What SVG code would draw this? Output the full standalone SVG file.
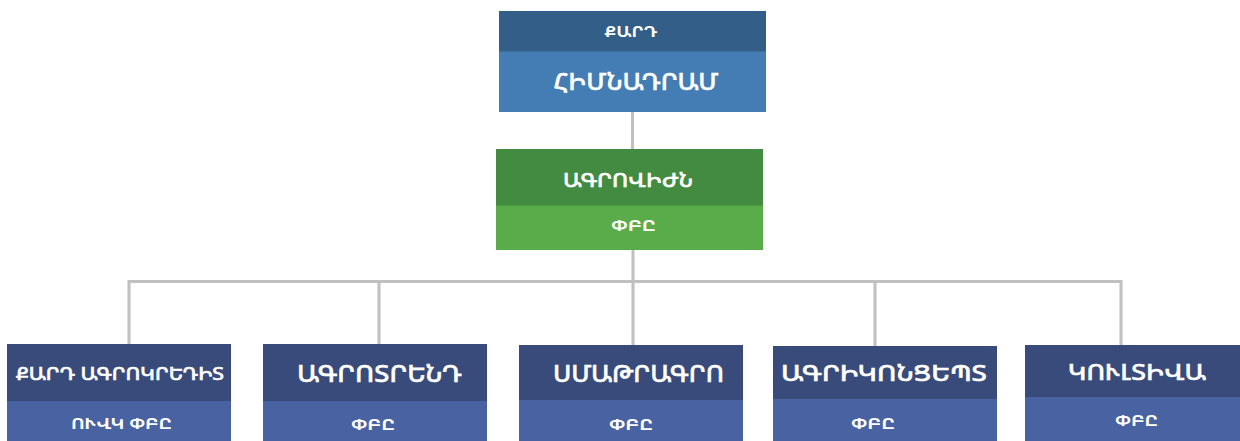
<svg xmlns="http://www.w3.org/2000/svg" width="1240" height="441" viewBox="0 0 1240 441">
<style>
text{font-family:"Noto Sans Armenian","Noto Sans","DejaVu Sans",sans-serif;fill:#ffffff;text-anchor:middle}
.t{font-weight:500;stroke:#ffffff;stroke-width:0.6}
.s{font-weight:bold;font-size:16px}
.c{fill:none;stroke:#c0c0c0;stroke-width:3}
.bh{fill:#384b7a}
.bl{fill:#4862a2}
</style>
<rect width="1240" height="441" fill="#ffffff"/>
<g id="connectors">
<path class="c" d="M632.5 112V149M633 250V281.5M129 281.5H1121M129 280V344M379 280V344M633 280V345M875 280V346M1121 280V345"/>
</g>
<g id="node-root">
<rect x="499" y="11" width="267" height="41" fill="#335e87"/>
<rect x="499" y="51.5" width="267" height="60.5" fill="#447db4"/>
<text class="s" x="631" y="37" textLength="53" lengthAdjust="spacingAndGlyphs">ՔԱՐԴ</text>
<text class="t" x="636" y="90" font-size="24" textLength="165" lengthAdjust="spacingAndGlyphs">ՀԻՄՆԱԴՐԱՄ</text>
</g>
<g id="node-agrovizhn">
<rect x="496" y="149" width="267" height="57" fill="#438b40"/>
<rect x="496" y="205.5" width="267" height="44.5" fill="#5aac4a"/>
<text class="t" x="628" y="187" font-size="20" textLength="130" lengthAdjust="spacingAndGlyphs">ԱԳՐՈՎԻԺՆ</text>
<text class="s" x="633.5" y="230.5" textLength="45" lengthAdjust="spacingAndGlyphs">ՓԲԸ</text>
</g>
<g id="node-kard-agrokredit">
<rect class="bh" x="7" y="344" width="224" height="57"/>
<rect class="bl" x="7" y="401" width="224" height="40"/>
<text class="t" x="120" y="380" font-size="18" textLength="208" lengthAdjust="spacingAndGlyphs">ՔԱՐԴ ԱԳՐՈԿՐԵԴԻՏ</text>
<text class="s" x="121.5" y="429" textLength="101" lengthAdjust="spacingAndGlyphs">ՈՒՎԿ ՓԲԸ</text>
</g>
<g id="node-agrotrend">
<rect class="bh" x="263" y="344" width="224" height="57"/>
<rect class="bl" x="263" y="401" width="224" height="40"/>
<text class="t" x="379.5" y="382" font-size="24" textLength="165" lengthAdjust="spacingAndGlyphs">ԱԳՐՈՏՐԵՆԴ</text>
<text class="s" x="373" y="430" textLength="44" lengthAdjust="spacingAndGlyphs">ՓԲԸ</text>
</g>
<g id="node-smatragro">
<rect class="bh" x="519" y="345" width="224" height="55"/>
<rect class="bl" x="519" y="400" width="224" height="41"/>
<text class="t" x="638.5" y="382" font-size="24" textLength="171" lengthAdjust="spacingAndGlyphs">ՍՄԱԹՐԱԳՐՈ</text>
<text class="s" x="631" y="430" textLength="44" lengthAdjust="spacingAndGlyphs">ՓԲԸ</text>
</g>
<g id="node-agrikoncept">
<rect class="bh" x="773" y="346" width="224" height="53"/>
<rect class="bl" x="773" y="399" width="224" height="42"/>
<text class="t" x="884" y="381" font-size="22" textLength="206" lengthAdjust="spacingAndGlyphs">ԱԳՐԻԿՈՆՑԵՊՏ</text>
<text class="s" x="873" y="429" textLength="44" lengthAdjust="spacingAndGlyphs">ՓԲԸ</text>
</g>
<g id="node-kultiva">
<rect class="bh" x="1025" y="345" width="224" height="52"/>
<rect class="bl" x="1025" y="397" width="224" height="44"/>
<text class="t" x="1137" y="380" font-size="22" textLength="138" lengthAdjust="spacingAndGlyphs">ԿՈՒԼՏԻՎԱ</text>
<text class="s" x="1136.5" y="426" textLength="43" lengthAdjust="spacingAndGlyphs">ՓԲԸ</text>
</g>
</svg>
